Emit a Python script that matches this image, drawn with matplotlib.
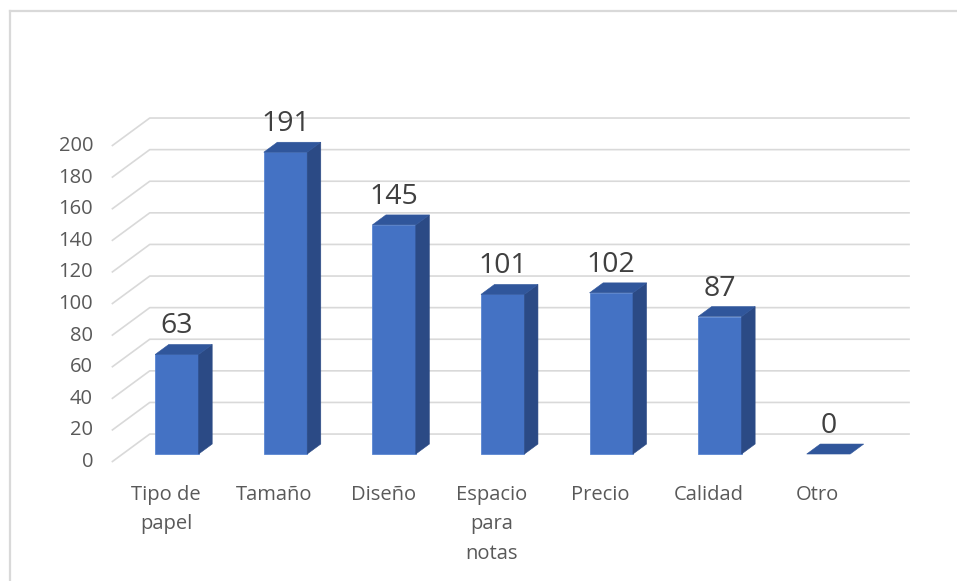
import matplotlib.pyplot as plt
from matplotlib.patches import Polygon
from matplotlib.lines import Line2D

# datos
categorias = ['Tipo de\npapel', 'Tamaño', 'Diseño', 'Espacio\npara\nnotas',
              'Precio', 'Calidad', 'Otro']
valores = [63, 191, 145, 101, 102, 87, 0]
ticks_y = list(range(0, 201, 20))

# colores estilo Excel 3D
c_frente = '#4472C4'
c_lado = '#2B4A85'
c_tapa = '#30569B'
c_grid = '#D9D9D9'
c_texto = '#595959'

plt.rcParams['font.family'] = ['Open Sans', 'DejaVu Sans']

fig = plt.figure(figsize=(9.57, 5.81), dpi=100)
ax = fig.add_axes([0, 0, 1, 1])
ax.set_xlim(-1.529, 7.284)
ax.set_ylim(-75.3, 292.4)
ax.axis('off')

# profundidad del "3D" (en unidades de datos)
DX, DY = 0.35, 17.7


def proy(x, v, d):
    return (x + d * DX, v + d * DY)


n = len(categorias)
x_izq, x_der = -0.5, n - 0.5

# paredes: lineas inclinadas a la izquierda y horizontales al fondo
for t in ticks_y:
    p0 = proy(x_izq, t, 0)
    p1 = proy(x_izq, t, 1)
    p2 = proy(x_der, t, 1)
    ax.plot([p0[0], p1[0], p2[0]], [p0[1], p1[1], p2[1]],
            color=c_grid, lw=1.2, zorder=1, solid_capstyle='butt')
    ax.text(-0.672, t, str(t), ha='right', va='center',
            fontsize=14.5, color=c_texto)

# barras
d0, d1 = 0.286, 0.643
ancho = 0.2
for i, v in enumerate(valores):
    x0, x1 = i - ancho, i + ancho
    frente = [proy(x0, 0, d0), proy(x1, 0, d0), proy(x1, v, d0), proy(x0, v, d0)]
    lado = [proy(x1, 0, d0), proy(x1, 0, d1), proy(x1, v, d1), proy(x1, v, d0)]
    tapa = [proy(x0, v, d0), proy(x1, v, d0), proy(x1, v, d1), proy(x0, v, d1)]
    if v > 0:
        ax.add_patch(Polygon(frente, closed=True, fc=c_frente, ec='#5A86D2',
                             lw=0.6, zorder=3))
        ax.add_patch(Polygon(lado, closed=True, fc=c_lado, ec=c_lado,
                             lw=0.4, zorder=3))
    ax.add_patch(Polygon(tapa, closed=True, fc=c_tapa, ec=c_tapa,
                         lw=0.4, zorder=3))
    # etiqueta de valor
    xl, yl = proy(i, v, d0)
    ax.text(xl, yl + 13.3, str(v), ha='center', va='baseline',
            fontsize=20.5, color='#404040', zorder=4)

# etiquetas de categoria
for i, c in enumerate(categorias):
    ax.text(i, -14.5, c, ha='center', va='top', fontsize=14.5,
            color=c_texto, linespacing=1.62)

# borde del area del grafico
fig.add_artist(Line2D([0.0105, 0.0105], [0, 0.981], color=c_grid, lw=1.6,
                      transform=fig.transFigure))
fig.add_artist(Line2D([0.0105, 1.0], [0.981, 0.981], color=c_grid, lw=1.6,
                      transform=fig.transFigure))

fig.savefig('out.png', dpi=100)
